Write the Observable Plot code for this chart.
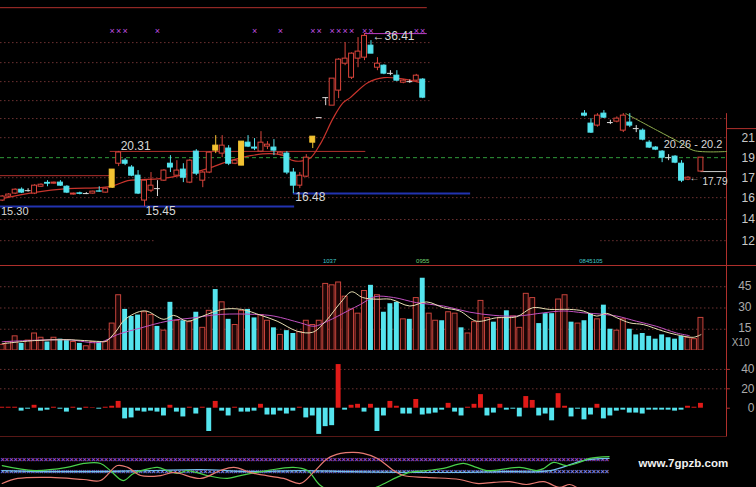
<!DOCTYPE html>
<html><head><meta charset="utf-8">
<script src="https://cdn.jsdelivr.net/npm/d3@7"></script>
<script src="https://cdn.jsdelivr.net/npm/@observablehq/plot@0.6"></script>
<style>
html,body{margin:0;padding:0;background:#000;}
#chart{position:relative;width:756px;height:487px;background:#000;overflow:hidden;}
</style></head><body><div id="chart"></div>
<script>
// ---------- DATA ----------
// candles (index 0..108); null = not visible
const candleOpen = [15.92,16.24,16.48,16.80,16.72,16.48,17.05,17.38,17.31,17.40,
 17.05,16.40,16.50,16.48,16.48,16.66,16.56,16.97,19.11,19.40,
 18.75,18.01,15.92,16.72,16.89,17.57,19.11,18.01,18.56,17.40,
 20.29,17.57,18.29,20.39,20.09,20.60,19.11,18.93,21.21,20.70,
 20.29,20.80,20.70,19.99,20.09,18.29,17.14,17.92,21.21,24.01,
 26.51,25.48,27.45,31.37,29.26,32.16,32.32,34.30,30.75,31.06,
 29.90,29.56,28.55,28.70,28.84,28.99,
 null,null,null,null,null,null,null,null,null,null,null,null,null,null,null,null,null,null,null,null,null,null,null,null,
 24.49,23.31,23.08,24.49,23.43,23.54,22.51,23.43,22.74,22.51,
 21.21,20.70,20.29,19.69,19.79,19.11,17.66,null,18.38];
const candleHigh = [16.32,16.48,16.88,16.95,16.88,17.22,17.30,17.57,17.45,17.57,
 17.14,16.52,16.60,16.56,16.68,17.05,16.95,18.56,20.31,19.59,
 18.93,18.47,17.66,18.29,17.57,18.56,19.89,19.40,19.11,19.50,
 20.49,18.38,20.29,21.96,21.96,20.90,19.50,21.32,21.96,21.64,
 22.40,21.32,21.53,20.29,20.29,18.66,18.29,19.99,21.85,24.01,
 26.51,29.13,32.16,34.82,33.10,35.69,36.41,35.16,32.32,31.20,
 30.30,30.30,29.00,28.95,29.75,29.13,
 null,null,null,null,null,null,null,null,null,null,null,null,null,null,null,null,null,null,null,null,null,null,null,null,
 24.86,23.89,24.49,24.86,23.70,24.10,24.50,24.49,23.08,22.70,
 21.42,20.80,20.39,19.99,19.89,19.40,17.92,null,19.69];
const candleLow = [15.84,16.16,16.40,16.48,16.60,16.40,17.00,17.05,17.25,17.08,
 16.48,16.36,16.38,16.40,16.44,16.60,16.52,16.90,18.84,18.93,
 17.92,16.40,15.45,16.56,16.24,17.50,18.29,17.92,17.40,17.31,
 18.01,16.97,18.19,20.09,19.69,18.93,19.02,18.93,20.70,20.39,
 20.19,20.49,19.89,19.89,18.10,16.48,16.89,17.83,20.60,24.01,
 25.48,25.48,26.38,31.06,29.00,30.75,31.84,32.97,30.30,29.70,
 29.56,28.70,28.40,28.45,28.70,26.38,
 null,null,null,null,null,null,null,null,null,null,null,null,null,null,null,null,null,null,null,null,null,null,null,null,
 24.10,22.20,22.90,23.90,23.20,23.40,22.30,22.85,22.29,21.40,
 20.60,20.39,19.21,19.40,19.11,17.40,17.57,null,18.38];
const candleClose = [16.24,16.40,16.80,16.56,16.72,17.14,17.22,17.31,17.40,17.14,
 16.56,16.48,16.46,16.48,16.64,16.64,16.88,18.56,20.20,19.11,
 18.01,16.48,17.57,17.14,16.89,18.47,18.75,18.47,17.83,19.40,
 18.19,18.29,20.19,20.90,20.90,19.11,19.40,21.32,20.80,20.60,
 21.21,21.00,20.39,20.19,18.29,17.14,18.01,19.69,21.85,24.01,
 26.51,29.13,32.00,32.16,32.97,33.30,36.00,32.97,31.37,29.86,
 29.90,28.84,28.84,28.70,29.56,26.51,
 null,null,null,null,null,null,null,null,null,null,null,null,null,null,null,null,null,null,null,null,null,null,null,null,
 24.25,22.29,24.25,24.01,23.43,23.89,24.25,23.08,22.74,21.53,
 20.70,20.49,19.69,19.69,19.21,17.57,17.83,null,19.69];
const yellowCandles = [17, 33, 37, 48];

// price moving average [index, price]
const priceMA = [[0,16.07],[4.8,16.56],[10.1,16.89],[15.2,16.97],[17.2,17.14],[19.4,17.57],[21.4,17.66],[24.5,17.75],
 [30.7,18.47],[35.3,19.40],[38.4,19.89],[41.5,20.09],[43.5,19.89],[45,19.40],[46.6,19.40],[47.7,19.69],[49.2,21.11],
 [51.2,24.01],[52.7,25.86],[53.8,26.51],[56.5,28.55],[59,29.27],[61.6,29.12],[64.7,28.55]];
const oliveMA = [[96.4,24.49],[101.3,22.51],[104.8,21.21],[106.9,20.40],[111.95,20.30]];

// signal marks (index) on top row
const signalIdx = [17,18,19,24,39,43,48,49,51,52,53,54,56,57,64,65];
const signalLevel = 36.8;

// price grid levels (log-spaced) and extents (index)
const priceGrid = [
 {p:34.82, from:-0.26, to:66.2},{p:31.53, from:-0.26, to:66.2},{p:28.70, from:-0.26, to:66.2},{p:26.12, from:-0.26, to:66.2},
 {p:23.90, from:-0.26, to:111.95},{p:21.74, from:-0.26, to:111.95},{p:17.83, from:-0.26, to:111.95},
 {p:16.15, from:-0.26, to:111.95},{p:14.49, from:-0.26, to:111.95},
 {p:13.05, from:-0.26, to:23.7},{p:13.05, from:92.5, to:111.95}];
const dashedLevel = 19.69;
const levelLines = [
 {p:41.40, from:-0.26, to:65.7, kind:"red"},
 {p:20.31, from:16.7, to:56.2, kind:"red"},
 {p:18.01, from:-0.26, to:16.7, kind:"red"},
 {p:15.45, from:-0.26, to:45.2, kind:"blue"},
 {p:16.48, from:45.0, to:72.4, kind:"blue"},
 {p:36.41, from:56, to:65.7, kind:"magenta"},
 {p:18.38, from:108, to:111.95, kind:"white"},
 {p:22.74, from:111.95, to:116.6, kind:"red"}];
const priceAxisValues = [21.74, 19.69, 17.83, 16.15, 14.49, 13.05];
const priceAxisLabels = ["21","19","17","16","14","12"];
const markerTexts = [{i:50.6, t:"1037"},{i:65, t:"0955"},{i:91, t:"0845105"}];
const markerLevel = 11.77;

// volume (x10) and direction 1=up 0=down
const volume = [4,6,10,5,7,12,9,6,9,8, 7,6,5,3,6,6,6,19,39,29, 24,25,27,25,17,14,34,21,21,20,
 27,16,28,43,34,22,18,28,29,23, 25,21,16,11,14,12,13,21,18,21, 47,46,48,38,29,26,42,46,39,27,
 33,34,22,22,37,51,26,21,21,27, 26,16,12,20,35,23,20,23,28,24, 16,40,37,19,26,26,36,39,20,19,
 21,26,22,32,15,14,22,15,11,12, 10,8,11,9,8,10,9,8,23];
const volUp = [1,1,1,0,1,1,1,0,1,0, 0,1,0,1,1,0,1,1,1,0, 0,0,1,1,0,1,0,1,0,1,
 0,1,1,0,1,0,1,1,0,0, 1,1,0,1,0,0,1,1,1,1, 1,1,1,1,1,1,1,0,1,0,
 0,0,1,0,1,0,1,1,0,1, 1,0,1,1,1,1,0,1,0,1, 1,1,1,0,0,0,1,1,0,1,
 0,0,1,0,0,1,1,0,0,0, 0,0,0,0,0,0,1,1,1];
const volMA5 = [[0,4.8],[5,7],[10,7.6],[15,6.4],[16,6.4],[17.5,13],[19,22],[22,28],[25,22],[26.5,24.8],[28.6,20.7],[31,24.3],
 [34,29],[37,29],[40,24.8],[42.5,20.7],[45.6,13.6],[48,12.9],[50,20.7],[52.3,33.8],[54,41.4],[55.7,37.4],[57.8,36.2],
 [60,36.2],[63,31.4],[65.6,34.3],[68.2,30.2],[70.7,27.9],[73.3,20.7],[76.4,23.1],[79.5,23.8],[82,30.2],[84.6,29],
 [87.7,29],[89.8,27.9],[91.9,24.3],[93.4,26.2],[95,23.1],[97,19.5],[99.1,18.3],[102.2,13.6],[104.2,11.2],[106.8,9.3],[108,11.2]];
const volMA10 = [[0,6.2],[10,7.6],[15,5.7],[17.8,11.2],[21.4,15.9],[25.5,20.7],[29.6,23.1],[33.8,25.5],[39,25.5],[42,24.3],
 [46.1,19.5],[48.2,17.1],[50.3,20.7],[53.4,27.9],[55.4,32.6],[57.6,38],[60.5,37.4],[64,33.8],[68.2,31.4],[72.2,27.1],
 [76,24.8],[79.5,24.3],[83.7,26.6],[86.8,27.9],[89.8,26.6],[93,25.5],[95,24.3],[98,20.7],[101.1,17.1],[104.2,12.4],[106.2,10.5]];
const volTicks = [45, 30, 15];

// MACD histogram
const macd = [1,1,1,-3,-1,3,-3,-2,1,-1, -4,1,-2,1,0.5,-1,1,2,7,-11, -10,-3,-4,-3,-4,-8,3,-4,-9,1,
 -6,1,-24,7,-3,-8,1,-4,-4,-3, 4,-7,-7,-3,-6,-3,1,-10,-8,-27, -19,-18,45,-2,3,4,-4,4,-24,-8,
 7,2,-6,-6,9,-7,-6,-5,-2,5, -4,-8,1,4,14,-8,-5,4,-2,-1, -9,12,8,-8,-6,-13,15,2,-9,-1,
 -12,-7,4,-11,-8,-3,-2,-5,-5,-6, -2,-2,-2,-2,-3,-2,2,1,5];
const macdTicks = [40, 20, 0];
const macdFloor = -29.7;

// bottom oscillator lines [index, value]
const oscGreen = [[0,51],[5,27],[10,42],[12.6,61],[15.2,61],[16.7,27],[18.7,-21],[20.3,13],[22.9,37],[24,42],[27.1,13],
 [28.6,27],[31.7,3],[34.8,-11],[36.8,3],[41,27],[45,42],[47.2,27],[49.2,-45],[53,-93],[57.8,-54],[59.4,-30],[61,-6],
 [63,18],[65.6,27],[68.2,37],[71.3,61],[73.3,42],[74.9,27],[80,42],[82.6,27],[83.7,37],[85.2,66],[87.2,51],[89.2,66],[90.8,85],[93.8,94]];
const oscPink = [[0,-35],[2.4,-11],[7.5,-6],[12.6,-16],[15.2,-21],[17.8,51],[19.4,42],[21.4,3],[24.5,3],[26.5,18],[30.7,-11],
 [33.7,27],[35.8,42],[38.9,13],[43.5,-11],[46.1,-35],[48.1,18],[50.3,85],[52.3,109],[54.3,114],[55.8,109],[58,85],[60.5,27],
 [62,3],[65.6,-6],[70.7,-16],[73.3,-35],[76,-30],[78.4,-26],[81,-40],[83.7,-26],[86.1,-54],[87.7,-40],[88.8,-54]];
const oscCyan = [[0,27],[7.5,22],[15.2,22],[23,27],[30.7,32],[38.4,22],[46.1,27],[53.8,22],[63,18],[70.7,18],[77,22],[84.7,27],[89.8,75],[93.8,85]];
const oscRows = [80, 20];

// ---------- DRAWING ----------
const X_MIN = -0.263, X_MAX = 111.95, X_EDGE = 116.6;
const FONT = "'Liberation Sans', Arial, sans-serif";
const RED = "#d9443b", CYAN = "#54e4ee", YELLOW = "#f3c332", DOJI = "#dddddd", LINE_RED = "#b0302c", GRID = "#6e3232";
const chart = document.getElementById("chart");
const base = (top, height, y) => ({
  width: 756, height, marginTop: 0, marginBottom: 0, marginLeft: 0, marginRight: 30,
  x: {domain: [X_MIN, X_MAX], axis: null}, y: {...y, axis: null},
  style: {position: "absolute", left: "0px", top: top + "px", background: "transparent", fontFamily: FONT, fontSize: "12px", overflow: "hidden"}
});
const pts = arr => arr.map(([i, v]) => ({i, v}));

const candles = candleOpen.map((o, i) => ({i, o, h: candleHigh[i], l: candleLow[i], c: candleClose[i]})).filter(d => d.o != null);
const kind = d => yellowCandles.includes(d.i) ? "yellow" : Math.abs(d.c - d.o) < 0.005 ? "doji" : d.c > d.o ? "up" : "down";
const colorOf = {up: RED, down: CYAN, yellow: YELLOW, doji: DOJI};
const lineColor = {red: LINE_RED, blue: "#2233b0", magenta: "#c040c8", white: "#cccccc"};

const pricePlot = Plot.plot({
  ...base(0, 265, {type: "log", domain: [11.54, 42.9]}),
  marks: [
    Plot.ruleY(priceGrid, {y: "p", x1: "from", x2: "to", stroke: GRID, strokeDasharray: "1.5,2.5"}),
    Plot.ruleY([dashedLevel], {x1: X_MIN, x2: X_MAX, stroke: "#2f9a3a", strokeDasharray: "4,3"}),
    Plot.ruleY(levelLines, {y: "p", x1: "from", x2: "to", stroke: d => lineColor[d.kind], strokeWidth: d => d.kind === "blue" ? 2 : 1}),
    Plot.ruleX([X_MAX], {y1: 24.49, y2: 11.54, stroke: LINE_RED}),
    Plot.line(pts(priceMA), {x: "i", y: "v", stroke: "#c8342c", strokeWidth: 1.2, curve: "catmull-rom"}),
    Plot.line(pts(oliveMA), {x: "i", y: "v", stroke: "#8fae4e", strokeWidth: 1, curve: "catmull-rom"}),
    Plot.ruleX(candles, {x: "i", y1: "l", y2: "h", stroke: d => colorOf[kind(d)]}),
    Plot.rect(candles.filter(d => kind(d) !== "doji"), {x1: d => d.i - 0.38, x2: d => d.i + 0.38, y1: "o", y2: "c",
      fill: d => kind(d) === "up" ? "#000000" : colorOf[kind(d)], stroke: d => colorOf[kind(d)]}),
    Plot.ruleY(candles.filter(d => kind(d) === "doji"), {y: "c", x1: d => d.i - 0.45, x2: d => d.i + 0.45, stroke: DOJI}),
    Plot.text(signalIdx, {x: d => d, y: () => signalLevel, text: () => "×", fill: "#c050e0", fontSize: 9}),
    Plot.text([{i: 56, p: 36.41}], {x: "i", y: "p", text: d => "←" + d.p.toFixed(2), textAnchor: "start", dx: 8, dy: 3, fill: "#d8d8d8", fontSize: 12}),
    Plot.text([{i: 18, p: 20.31}], {x: "i", y: "p", text: d => d.p.toFixed(2), textAnchor: "start", dx: 2, dy: -5.5, fill: "#d8d8d8", fontSize: 12}),
    Plot.text([{i: 22, p: 15.45}], {x: "i", y: "p", text: d => d.p.toFixed(2), textAnchor: "start", dx: 1, dy: 5, fill: "#d8d8d8", fontSize: 12}),
    Plot.text([{i: 45, p: 16.48}], {x: "i", y: "p", text: d => d.p.toFixed(2), textAnchor: "start", dx: 2, dy: 4, fill: "#d8d8d8", fontSize: 12}),
    Plot.text([{i: 0, p: 15.30}], {x: "i", y: "p", text: d => d.p.toFixed(2), textAnchor: "start", dx: -1.2, dy: 3, fill: "#d8d8d8", fontSize: 11}),
    Plot.text([{i: 102, p: 20.26}], {x: "i", y: "p", text: d => d.p.toFixed(2) + " - 20.2", textAnchor: "start", dx: 1.5, dy: -7, fill: "#d8d8d8", fontSize: 11}),
    Plot.text([{i: 107, p: 17.79}], {x: "i", y: "p", text: () => "←", fill: "#d8d8d8", fontSize: 10}),
    Plot.text([{i: 108, p: 17.79}], {x: "i", y: "p", text: d => d.p.toFixed(2), textAnchor: "start", dx: 1.5, dy: 4, fill: "#d8d8d8", fontSize: 10}),
    Plot.text(markerTexts, {x: "i", y: () => markerLevel, text: "t", fill: (d, k) => k === 1 ? "#70d070" : "#40c8c8", fontSize: 6}),
    Plot.text(priceAxisValues, {y: d => d, text: (d, k) => priceAxisLabels[k], frameAnchor: "right", textAnchor: "start", dx: 15, fill: "#c8c8c8", fontSize: 12})
  ]
});

const vols = volume.map((v, i) => ({i, v, up: volUp[i] === 1}));
const volPlot = Plot.plot({
  ...base(264, 86, {domain: [0, 60.7]}),
  marks: [
    Plot.ruleY(volTicks, {x1: X_MIN, x2: X_MAX, stroke: GRID, strokeDasharray: "1.5,2.5"}),
    Plot.ruleY([60], {x1: X_MIN, x2: X_EDGE, stroke: LINE_RED}),
    Plot.ruleX([X_MAX], {y1: 0, y2: 60, stroke: LINE_RED}),
    Plot.rect(vols.filter(d => d.up), {x1: d => d.i - 0.38, x2: d => d.i + 0.38, y1: 0, y2: "v", fill: "#1c0606", stroke: "#c8443c"}),
    Plot.rect(vols.filter(d => !d.up), {x1: d => d.i - 0.38, x2: d => d.i + 0.38, y1: 0, y2: "v", fill: CYAN}),
    Plot.line(pts(volMA10), {x: "i", y: "v", stroke: "#c050c0", strokeWidth: 1, curve: "catmull-rom"}),
    Plot.line(pts(volMA5), {x: "i", y: "v", stroke: "#e8e0b4", strokeWidth: 1, curve: "catmull-rom"}),
    Plot.text(volTicks, {y: d => d, text: d => String(d), frameAnchor: "right", textAnchor: "end", dx: 25, dy: -1, fill: "#aaaaaa", fontSize: 12}),
    Plot.text(["X10"], {frameAnchor: "bottom-right", textAnchor: "end", dx: 23, dy: -5, fill: "#aaaaaa", fontSize: 10})
  ]
});

const macdData = macd.map((v, i) => ({i, v}));
const macdPlot = Plot.plot({
  ...base(350, 87, {domain: [-30.2, 59.5]}),
  marks: [
    Plot.ruleY([40, 20], {x1: X_MIN, x2: X_MAX, stroke: GRID, strokeDasharray: "1.5,2.5"}),
    Plot.ruleY([macdFloor], {x1: X_MIN, x2: X_MAX, stroke: LINE_RED}),
    Plot.ruleX([X_MAX], {y1: macdFloor, y2: 59.5, stroke: LINE_RED}),
    Plot.ruleY(macdTicks, {x1: X_MAX, x2: X_MAX + 0.6, stroke: LINE_RED}),
    Plot.rect(macdData.filter(d => d.v >= 0), {x1: d => d.i - 0.38, x2: d => d.i + 0.38, y1: 0, y2: "v", fill: "#e01a18"}),
    Plot.rect(macdData.filter(d => d.v < 0), {x1: d => d.i - 0.38, x2: d => d.i + 0.38, y1: 0, y2: "v", fill: CYAN}),
    Plot.text(macdTicks, {y: d => d, text: d => String(d), frameAnchor: "right", textAnchor: "end", dx: 28, fill: "#aaaaaa", fontSize: 12})
  ]
});

const oscPlot = Plot.plot({
  ...base(437, 50, {domain: [-54.4, 185.6]}),
  marks: [
    Plot.text(oscRows, {x: () => X_MIN, y: d => d, text: () => "×".repeat(141), textAnchor: "start",
      fill: (d, k) => k === 0 ? "#a050d8" : "#8c8cf0", fontSize: 7.4, fontWeight: "bold", fontFamily: FONT}),
    Plot.line(pts(oscCyan), {x: "i", y: "v", stroke: "#74bde8", strokeWidth: 1.2, curve: "catmull-rom"}),
    Plot.line(pts(oscGreen), {x: "i", y: "v", stroke: "#4ad04a", strokeWidth: 1.2, curve: "catmull-rom"}),
    Plot.line(pts(oscPink), {x: "i", y: "v", stroke: "#e87a72", strokeWidth: 1.2, curve: "catmull-rom"}),
    Plot.text(["www.7gpzb.com"], {frameAnchor: "right", textAnchor: "start", dx: -88, dy: 1, fill: "#f0f0f0", fontWeight: "bold", fontSize: 11.5})
  ]
});

chart.append(pricePlot, volPlot, macdPlot, oscPlot);
</script></body></html>
